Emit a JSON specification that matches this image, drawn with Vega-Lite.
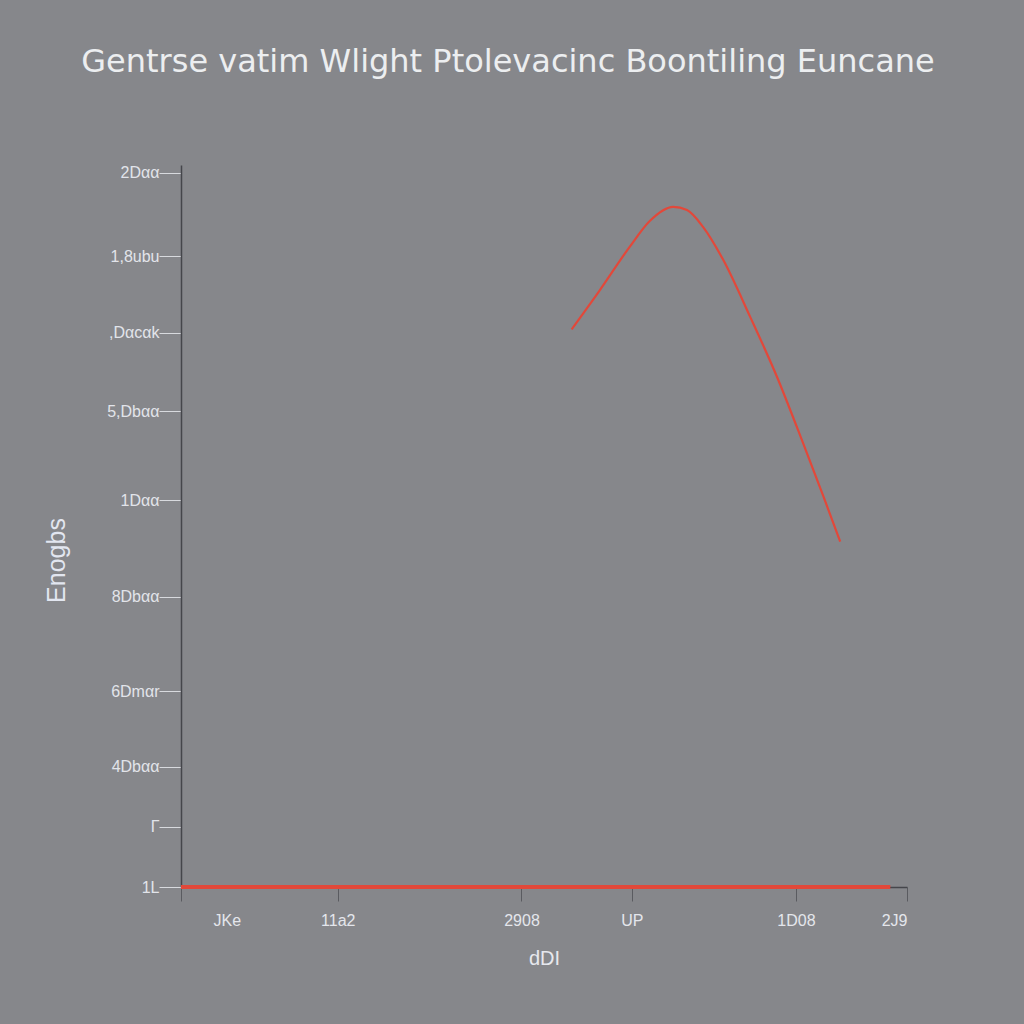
{
  "$schema": "https://vega.github.io/schema/vega-lite/v6.json",
  "autosize": "none",
  "width": 726,
  "height": 722,
  "padding": {"left": 181, "top": 165, "right": 117, "bottom": 137},
  "background": "#86878b",
  "config": {
    "view": {"stroke": null},
    "font": "Liberation Sans"
  },
  "title": {
    "text": "Gentrse vatim Wlight Ptolevacinc Boontiling Euncane",
    "fontSize": 32,
    "fontWeight": "normal",
    "font": "DejaVu Sans",
    "color": "#eceef0",
    "anchor": "middle",
    "dx": -36,
    "offset": 86
  },
  "datasets": {
    "curve": [
      {"x": 53.8, "y": 1560, "s": "a"},
      {"x": 57.7, "y": 1670, "s": "a"},
      {"x": 61.8, "y": 1791, "s": "a"},
      {"x": 64.6, "y": 1864, "s": "a"},
      {"x": 67.8, "y": 1903, "s": "a"},
      {"x": 69.7, "y": 1894, "s": "a"},
      {"x": 71.9, "y": 1847, "s": "a"},
      {"x": 74.7, "y": 1754, "s": "a"},
      {"x": 78.4, "y": 1595, "s": "a"},
      {"x": 82.1, "y": 1427, "s": "a"},
      {"x": 85.7, "y": 1241, "s": "a"},
      {"x": 88.5, "y": 1092, "s": "a"},
      {"x": 90.8, "y": 966, "s": "a"}
    ],
    "flat": [
      {"x": 0, "y": 0, "s": "b"},
      {"x": 97.7, "y": 0, "s": "b"}
    ]
  },
  "encoding": {
    "x": {
      "field": "x",
      "type": "quantitative",
      "scale": {"domain": [0, 100], "nice": false, "zero": false},
      "axis": {
        "title": "dDI",
        "titleColor": "#e6e8ee",
        "titleFontSize": 20,
        "titleFontWeight": "normal",
        "titlePadding": 20,
        "values": [0, 21.6, 46.9, 62.1, 84.7, 100],
        "labelExpr": "datum.value == 0 ? 'JKe' : datum.value == 21.6 ? '11a2' : datum.value == 46.9 ? '2908' : datum.value == 62.1 ? 'UP' : datum.value == 84.7 ? '1D08' : '2J9'",
        "labelOffset": {"condition": {"test": "datum.value == 0", "value": 32}, "value": 0},
        "labelColor": "#e4e6ec",
        "labelFontSize": 16,
        "labelPadding": 11,
        "tickSize": 14,
        "tickOffset": 0,
        "tickColor": "#5a5b60",
        "domainColor": "#45464b",
        "domainWidth": 1.5,
        "grid": false
      }
    },
    "y": {
      "field": "y",
      "type": "quantitative",
      "scale": {"domain": [0, 2020], "nice": false},
      "axis": {
        "title": "Enogbs",
        "titleColor": "#e2e6f0",
        "titleFontSize": 25,
        "titleFontWeight": "normal",
        "titleX": -112,
        "titleY": 395,
        "values": [0, 169, 336, 548, 812, 1082, 1331, 1550, 1765, 1998],
        "labelExpr": "datum.value == 1998 ? '2Dαα' : datum.value == 1765 ? '1,8ubu' : datum.value == 1550 ? ',Dαcαk' : datum.value == 1331 ? '5,Dbαα' : datum.value == 1082 ? '1Dαα' : datum.value == 812 ? '8Dbαα' : datum.value == 548 ? '6Dmαr' : datum.value == 336 ? '4Dbαα' : datum.value == 169 ? 'Γ' : '1L'",
        "labelColor": "#e2e4ea",
        "labelFontSize": 16,
        "labelPadding": 0,
        "tickSize": 22,
        "tickColor": "#d8dade",
        "domainColor": "#45464b",
        "domainWidth": 1.5,
        "grid": false
      }
    }
  },
  "layer": [
    {
      "data": {"name": "flat"},
      "mark": {"type": "line", "color": "#e2483a", "strokeWidth": 4}
    },
    {
      "data": {"name": "curve"},
      "mark": {"type": "line", "color": "#e2483a", "strokeWidth": 2.2, "interpolate": "monotone"}
    }
  ]
}
